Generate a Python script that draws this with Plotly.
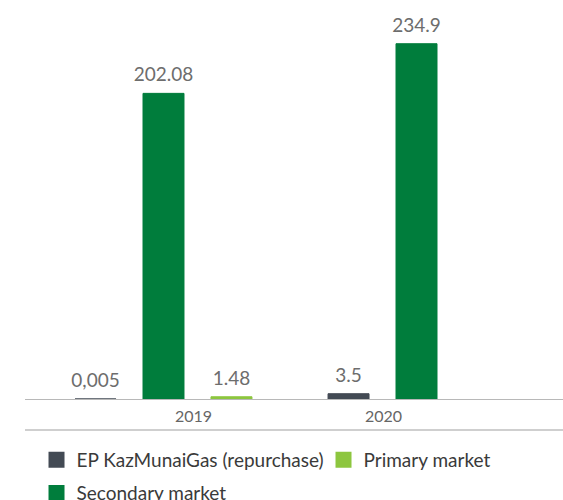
import plotly.graph_objects as go

years = ["2019", "2020"]
series_names = ["EP KazMunaiGas (repurchase)", "Secondary market", "Primary market"]
ep_values = [0.005, 3.5]
secondary_values = [202.08, 234.9]
primary_values = [1.48, None]
ep_labels = ["0,005", "3.5"]
secondary_labels = ["202.08", "234.9"]
primary_labels = ["1.48", ""]

colors = {
    "EP KazMunaiGas (repurchase)": "#434a54",
    "Secondary market": "#007d3c",
    "Primary market": "#8dc63f",
}
# legend placement: first row and second row
legend_rows = {
    "EP KazMunaiGas (repurchase)": ("legend", 242),
    "Primary market": ("legend", None),
    "Secondary market": ("legend2", None),
}
legend_order = ["EP KazMunaiGas (repurchase)", "Primary market", "Secondary market"]

FONT = "Lato"
GAP = 0.194
fig = go.Figure()
for name, vals in zip(series_names, [ep_values, secondary_values, primary_values]):
    fig.add_trace(go.Bar(
        x=years, y=vals, name=name, offsetgroup=name,
        marker=dict(color=colors[name], line=dict(color=colors[name], width=1)),
        showlegend=False, hoverinfo="skip",
    ))

# value labels, grouped like the bars
for name, vals, labels in zip(series_names,
                              [ep_values, secondary_values, primary_values],
                              [ep_labels, secondary_labels, primary_labels]):
    fig.add_trace(go.Scatter(
        x=years, y=vals, text=labels, mode="markers+text", textposition="top center",
        offsetgroup=name,
        marker=dict(size=10, opacity=0, color=colors[name]),
        textfont=dict(family=FONT, size=19, color="#6d6d6d"),
        cliponaxis=False, showlegend=False, hoverinfo="skip",
    ))

# legend entries
for name in legend_order:
    lg, lw = legend_rows[name]
    kw = dict(legendwidth=lw) if lw else {}
    fig.add_trace(go.Scatter(
        x=[None], y=[None], mode="markers", name=name, legend=lg, offsetgroup=name,
        marker=dict(symbol="square", size=16, color=colors[name]), **kw,
    ))

# category labels
label_pos = [0.12, 0.87]
for yr, xp in zip(years, label_pos):
    fig.add_annotation(x=xp, y=-0.0437, xref="x", yref="paper", text=yr,
                       showarrow=False, yanchor="middle", xanchor="center",
                       font=dict(family=FONT, size=16, color="#666666"))

fig.add_shape(type="line", xref="paper", yref="paper", x0=0, x1=1,
              y0=-0.0797, y1=-0.0797, line=dict(color="#cfcfcf", width=2))

legend_font = dict(family=FONT, size=19, color="#3a3a3a")
fig.update_layout(
    width=563, height=500,
    margin=dict(l=25, r=0, t=10, b=101, autoexpand=False),
    paper_bgcolor="white", plot_bgcolor="white",
    barmode="group", bargap=GAP, bargroupgap=0.397,
    scattermode="group", scattergap=GAP,
    xaxis=dict(type="category", range=[-0.5474, 1.579], showticklabels=False,
               showline=True, linecolor="#b8b8b8", linewidth=1, showgrid=False,
               zeroline=False, ticks="", fixedrange=True),
    yaxis=dict(range=[0, 257.2], visible=False, showgrid=False, zeroline=False,
               fixedrange=True),
    showlegend=True,
    legend=dict(orientation="h", x=0.0214, xanchor="left", y=-0.108, yanchor="top",
                font=legend_font, itemclick=False, itemdoubleclick=False),
    legend2=dict(orientation="h", x=0.0214, xanchor="left", y=-0.193, yanchor="top",
                 font=legend_font, itemclick=False, itemdoubleclick=False),
    font=dict(family=FONT),
)

fig.write_html("out.html", config={"displayModeBar": False},
               post_script="document.body.style.margin='0';")
